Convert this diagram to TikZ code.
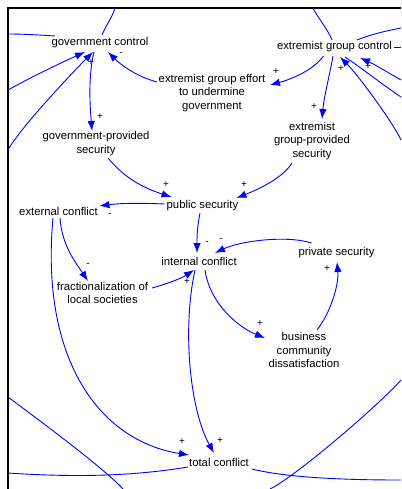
\documentclass[tikz,border=0pt]{standalone}
\usepackage{fontspec}
\setmainfont{Liberation Sans}
\usetikzlibrary{arrows.meta,calc}
\definecolor{linkblue}{RGB}{0,0,255}
\tikzset{
  var/.style={inner sep=0pt, align=center, font=\fontsize{11.3}{13.5}\selectfont},
  pol/.style={inner sep=0pt, font=\fontsize{10}{11}\selectfont},
  link/.style={draw=linkblue, line width=0.9pt},
  arr/.style={link, -{Latex[length=10pt,width=7.5pt]}},
  frame/.style={draw=black, line width=1.6pt}
}
\begin{document}
\begin{tikzpicture}[x=1pt,y=-1pt]
\useasboundingbox (0,0) rectangle (401,489);

% frame
\draw[frame] (8,489) -- (8,8) -- (401,8);

% variables
\node[var] (gc)   at (100,43)  {government control};
\node[var] (egc)  at (334.5,47) {extremist group control};
\node[var] (ege)  at (212,93)  {extremist group effort\\to undermine\\government};
\node[var] (gps)  at (96,143.5) {government-provided\\security};
\node[var] (egps) at (312,141) {extremist\\group-provided\\security};
\node[var] (ps)   at (202.5,206) {public security};
\node[var] (ec)   at (58.5,211) {external conflict};
\node[var] (ic)   at (199,261) {internal conflict};
\node[var] (pvs)  at (336.5,253) {private security};
\node[var] (fr)   at (102.5,293) {fractionalization of\\local societies};
\node[var] (bcd)  at (304,350) {business\\community\\dissatisfaction};
\node[var] (tc)   at (219,462) {total conflict};

% loose ends at the frame
\coordinate (L1) at (8,90);
\coordinate (L2) at (8,150);
\coordinate (L3) at (8,34);
\coordinate (L4) at (8,473);
\coordinate (L5) at (8,397);
\coordinate (T1) at (115,8);
\coordinate (T2) at (313,8);
\coordinate (R1) at (401,28);
\coordinate (R2) at (401,47);
\coordinate (R3) at (401,80);
\coordinate (R4) at (401,97);
\coordinate (R5) at (401,140);
\coordinate (R6) at (401,480);
\coordinate (R7) at (401,380);
\coordinate (B1) at (123,489);
\coordinate (B2) at (270,489);

% causal links
\draw[arr] ($(gc)+(-6,9)$) .. controls +(-6,25) and +(-2,-25) .. ($(gps)+(-4,-12.5)$);
\draw[arr] ($(ege)+(-55,-11)$) .. controls +(-22,-6) and +(12,12) .. ($(gc)+(8,9)$);
\draw[arr] ($(egc)+(-11,9)$) .. controls +(-10,14) and +(22,-6) .. ($(ege)+(58,-8)$);
\draw[arr] ($(egc)+(-1.5,9)$) .. controls +(-4,22) and +(2,-22) .. ($(egps)+(10,-22)$);
\draw[arr] ($(gps)+(12,14.5)$) .. controls +(18,22) and +(-25,-8) .. ($(ps)+(-31,-9)$);
\draw[arr] ($(egps)+(-20,22)$) .. controls +(-10,16) and +(20,-8) .. ($(ps)+(34,-8)$);
\draw[arr] ($(ps)+(-38,-2)$) .. controls +(-22,-1) and +(22,-3) .. ($(ec)+(41,-5)$);
\draw[arr] ($(ps)+(-2.5,7)$) .. controls +(-3,15) and +(0,-15) .. ($(ic)+(-2,-8)$);
\draw[arr] ($(pvs)+(-25,-10)$) .. controls +(-25,-8) and +(25,-12) .. ($(ic)+(16,-8)$);
\draw[arr] ($(ec)+(1.5,7)$) .. controls +(2,28) and +(-12,-18) .. ($(fr)+(-14.5,-12)$);
\draw[arr] ($(fr)+(49.5,-5)$) .. controls +(15,-4) and +(-12,8) .. ($(ic)+(-5,9)$);
\draw[arr] ($(ic)+(6,9)$) .. controls +(5,35) and +(-25,-10) .. ($(bcd)+(-39,-12)$);
\draw[arr] ($(bcd)+(13,-20)$) .. controls +(14,-18) and +(2,22) .. ($(pvs)+(0.5,9)$);
\draw[arr] ($(ic)+(-4,9)$) .. controls +(-13,60) and +(-24,-43) .. ($(tc)+(-5,-9)$);
\draw[arr] ($(ec)+(-5.5,7)$) .. controls +(-13,142) and +(-89,-14) .. ($(tc)+(-30,-7)$);

% links entering government control from the left
\draw[arr] (L1) .. controls +(25,-14) and +(-20,9) .. ($(gc)+(-15,9)$);
\draw[arr] (L2) .. controls +(12,-22) and +(-20,20) .. ($(gc)+(-7,9)$);
% links leaving government control
\draw[link] ($(gc)+(-45,-7)$) .. controls +(-15,-1) and +(15,0) .. (L3);
\draw[link] ($(gc)+(2,-8)$) .. controls +(4,-10) and +(-3,10) .. (T1);

% links at extremist group control
\draw[link] ($(egc)+(-2.5,-7)$) .. controls +(-5,-12) and +(5,10) .. (T2);
\draw[link] ($(egc)+(22.5,-7)$) .. controls +(15,-6) and +(-15,3) .. (R1);
\draw[link] ($(egc)+(59.5,0)$) -- (R2);
\draw[arr] (R3) .. controls +(-14,-8) and +(12,5) .. ($(egc)+(25.5,11)$);
\draw[link] ($(egc)+(10.5,10)$) .. controls +(18,12) and +(-18,-12) .. (R4);
\draw[arr] (R5) .. controls +(-6,-14) and +(20,20) .. ($(egc)+(5.5,10)$);

% links leaving total conflict
\draw[link] ($(tc)+(-31,5)$) .. controls +(-60,10) and +(60,4) .. (L4);
\draw[link] ($(tc)+(33,7)$) .. controls +(40,10) and +(-40,0) .. (R6);

% long links crossing the lower corners
\draw[link] (L5) .. controls +(20,15) and +(-20,-22) .. (B1);
\draw[link] (R7) .. controls +(-22,25) and +(25,-12) .. (B2);

% link polarities
\node[pol] (p1)  at (91,63)   {+};
\node[pol] (p2)  at (100,117) {+};
\node[pol] (p3)  at (121,54)  {-};
\node[pol] (p4)  at (276,72)  {+};
\node[pol] (p5)  at (341,69)  {+};
\node[pol] (p6)  at (368,67)  {+};
\node[pol] (p7)  at (314,107) {+};
\node[pol] (p8)  at (166,185) {+};
\node[pol] (p9)  at (244,185) {+};
\node[pol] (p10) at (110,215) {-};
\node[pol] (p11) at (207,243) {-};
\node[pol] (p12) at (221,240) {-};
\node[pol] (p13) at (88,265)  {-};
\node[pol] (p14) at (187,282) {+};
\node[pol] (p15) at (327,269) {+};
\node[pol] (p16) at (260,324) {+};
\node[pol] (p17) at (182,442) {+};
\node[pol] (p18) at (220,441) {+};
\end{tikzpicture}
\end{document}
